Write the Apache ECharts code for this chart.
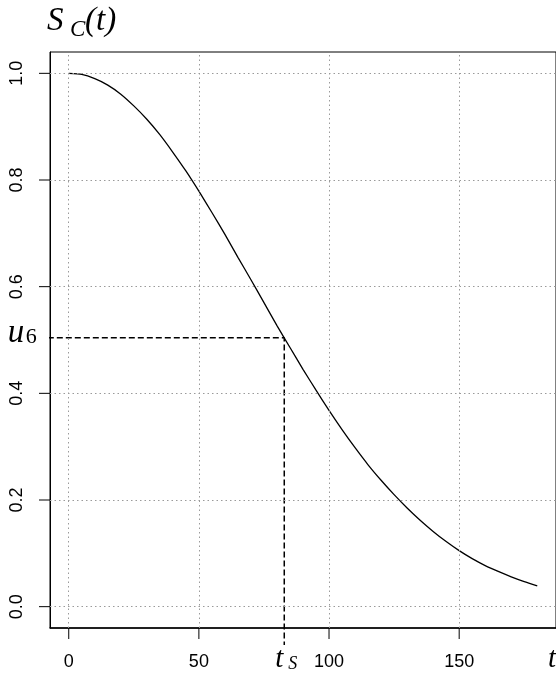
<!DOCTYPE html>
<html><head><meta charset="utf-8">
<script src="https://cdn.jsdelivr.net/npm/echarts@6/dist/echarts.min.js"></script>
<style>html,body{margin:0;padding:0;background:#fff}#c{width:556px;height:675px}</style>
</head><body><div id="c"></div><script>
// Survival curve values
const tValues  = [0, 5, 10, 15, 20, 25, 30, 35, 40, 45, 50, 55, 60, 65, 70, 75, 80, 85, 90,
                  95, 100, 105, 110, 115, 120, 125, 130, 135, 140, 145, 150, 155, 160, 165, 170, 175, 180];
const survival = [1.000, 0.998, 0.990, 0.978, 0.961, 0.939, 0.914, 0.885, 0.852, 0.817, 0.779, 0.739, 0.698, 0.655, 0.613, 0.570, 0.527, 0.486, 0.445,
                  0.406, 0.368, 0.332, 0.298, 0.266, 0.237, 0.210, 0.185, 0.162, 0.141, 0.122, 0.105, 0.090, 0.077, 0.066, 0.056, 0.047, 0.039];
const xTicks = [0, 50, 100, 150];
const yTicks = [0, 0.2, 0.4, 0.6, 0.8, 1.0];
const tS = 82.8;
const u6 = 0.504;
const xRange = [-7.2, 187.2];
const yRange = [-0.04, 1.04];
const dashStartX = -11.5;
const dashEndY = -0.072;

const sans = "'Liberation Sans', Helvetica, Arial, sans-serif";
const serif = "'Liberation Serif', 'Times New Roman', serif";
const gridStyle = {color: '#9a9a9a', width: 1, type: [1.5, 3]};
const TICK = 11;

const chart = echarts.init(document.getElementById('c'), null, {renderer: 'canvas'});
chart.setOption({
  animation: false,
  grid: {left: 50, right: -2, top: 52, bottom: 47, show: true, borderColor: '#000', borderWidth: 1, containLabel: false},
  xAxis: {
    type: 'value', min: xRange[0], max: xRange[1],
    axisLine: {show: true, onZero: false, lineStyle: {color: '#000', width: 1.5}},
    axisTick: {show: false},
    axisLabel: {customValues: xTicks, margin: 25, color: '#000', fontSize: 18, fontFamily: sans},
    splitLine: {show: false}
  },
  yAxis: {
    type: 'value', min: yRange[0], max: yRange[1],
    axisLine: {show: true, onZero: false, lineStyle: {color: '#000', width: 1}},
    axisTick: {show: false},
    axisLabel: {customValues: yTicks, rotate: 90, margin: 24, color: '#000', fontSize: 18, fontFamily: sans,
      formatter: v => v.toFixed(1)},
    splitLine: {show: false}
  },
  series: [
    {
      type: 'line', data: [], silent: true,
      markLine: {
        silent: true, symbol: 'none', label: {show: false}, animation: false,
        lineStyle: gridStyle,
        data: xTicks.map(v => ({xAxis: v})).concat(yTicks.map(v => ({yAxis: v})))
      }
    },
    {
      type: 'line', data: tValues.map((t, i) => [t, survival[i]]),
      smooth: 0.2, showSymbol: false, symbol: 'none', silent: true,
      lineStyle: {color: '#000', width: 1.3}
    },
    {
      type: 'line', data: [[dashStartX, u6], [tS, u6], [tS, dashEndY]],
      showSymbol: false, symbol: 'none', clip: false, silent: true,
      lineStyle: {color: '#000', width: 1.5, type: [6, 3]}
    }
  ]
});

const graphics = [];
xTicks.forEach(v => {
  const p = chart.convertToPixel({gridIndex: 0}, [v, yRange[0]]);
  graphics.push({type: 'line', silent: true, shape: {x1: p[0], y1: p[1], x2: p[0], y2: p[1] + TICK},
                 style: {stroke: '#000', lineWidth: 1}});
});
yTicks.forEach(v => {
  const p = chart.convertToPixel({gridIndex: 0}, [xRange[0], v]);
  graphics.push({type: 'line', silent: true, shape: {x1: p[0] - TICK, y1: p[1], x2: p[0], y2: p[1]},
                 style: {stroke: '#000', lineWidth: 1}});
});

const pU = chart.convertToPixel({gridIndex: 0}, [dashStartX, u6]);
const pT = chart.convertToPixel({gridIndex: 0}, [tS, dashEndY]);
graphics.push(
  {type: 'text', left: 47, top: 5, style: {text: 'S', font: 'italic 33px ' + serif, fill: '#000'}},
  {type: 'text', left: 70, top: 18, style: {text: 'C', font: 'italic 23px ' + serif, fill: '#000'}},
  {type: 'text', left: 85, top: 5, style: {text: '(t)', font: 'italic 33px ' + serif, fill: '#000'}},
  {type: 'text', x: pU[0] - 31, y: pU[1] - 21, style: {text: 'u', font: 'italic 33px ' + serif, fill: '#000'}},
  {type: 'text', x: pU[0] - 13, y: pU[1] - 12, style: {text: '6', font: '22px ' + serif, fill: '#000'}},
  {type: 'text', x: pT[0] - 9, y: pT[1] + 0, style: {text: 't', font: 'italic 29px ' + serif, fill: '#000'}},
  {type: 'text', x: pT[0] + 4, y: pT[1] + 10, style: {text: 'S', font: 'italic 18px ' + serif, fill: '#000'}},
  {type: 'text', left: 548, top: 645, style: {text: 't', font: 'italic 29px ' + serif, fill: '#000'}}
);
chart.setOption({graphic: graphics});
</script></body></html>
